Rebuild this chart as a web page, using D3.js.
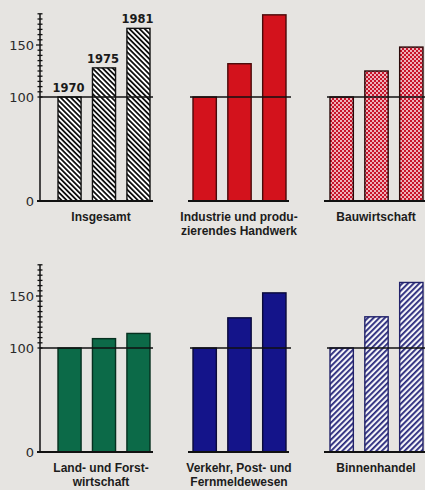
<!DOCTYPE html>
<html><head><meta charset="utf-8">
<script src="https://cdn.jsdelivr.net/npm/d3@7"></script>
<style>html,body{margin:0;padding:0;background:#e6e4e1;}svg{display:block;}</style>
</head><body>
<svg id="c" width="425" height="490"></svg>
<script>
const years = ["1970", "1975", "1981"];
const sectors = ["Insgesamt", "Industrie und produzierendes Handwerk", "Bauwirtschaft",
                 "Land- und Forstwirtschaft", "Verkehr, Post- und Fernmeldewesen", "Binnenhandel"];
const sectorLabels = [["Insgesamt"], ["Industrie und produ-", "zierendes Handwerk"], ["Bauwirtschaft"],
                      ["Land- und Forst-", "wirtschaft"], ["Verkehr, Post- und", "Fernmeldewesen"], ["Binnenhandel"]];
const insgesamt = [100, 128, 166];
const industrie = [100, 132, 179];
const bauwirtschaft = [100, 125, 148];
const landForst = [100, 109, 114];
const verkehr = [100, 129, 153];
const binnenhandel = [100, 130, 163];
const seriesValues = [insgesamt, industrie, bauwirtschaft, landForst, verkehr, binnenhandel];
const yTickLabels = [0, 100, 150];
const yMinorTicks = d3.range(100, 181, 5);

const svg = d3.select("#c");
const defs = svg.append("defs");

// patterns
const p1 = defs.append("pattern").attr("id","hatchBlack").attr("patternUnits","userSpaceOnUse")
  .attr("width",3.6).attr("height",3.6).attr("patternTransform","rotate(45)");
p1.append("rect").attr("width",3.6).attr("height",3.6).attr("fill","#fff");
p1.append("rect").attr("width",3.6).attr("height",1.8).attr("fill","#111");

const p6 = defs.append("pattern").attr("id","hatchBlue").attr("patternUnits","userSpaceOnUse")
  .attr("width",4).attr("height",4).attr("patternTransform","rotate(-45)");
p6.append("rect").attr("width",4).attr("height",4).attr("fill","#f4f4f8");
p6.append("rect").attr("width",4).attr("height",1.8).attr("fill","#26267a");

const p3 = defs.append("pattern").attr("id","dotsRed").attr("patternUnits","userSpaceOnUse")
  .attr("width",4).attr("height",4);
p3.append("rect").attr("width",4).attr("height",4).attr("fill","#c8142a");
p3.append("circle").attr("cx",1).attr("cy",1).attr("r",1).attr("fill","#fbe6ea");
p3.append("circle").attr("cx",3).attr("cy",3).attr("r",1).attr("fill","#fbe6ea");

const styles = [
  {fill:"url(#hatchBlack)", stroke:"#111"},
  {fill:"#d3121c", stroke:"#4a0a0a"},
  {fill:"url(#dotsRed)", stroke:"#2a0808"},
  {fill:"#0c6a48", stroke:"#06301f"},
  {fill:"#14148a", stroke:"#0a0a3a"},
  {fill:"url(#hatchBlue)", stroke:"#22226a"}
];

const rowBase = [201, 452];
const colRange = [[58, 150], [193, 286], [330, 423]];
const baseExt = [[37, 153], [188, 289], [324, 425]];
const refExt = [[40, 153], [190, 291], [327, 425]];
const labelCx = [101, 239, 376];

sectors.forEach((s, i) => {
  const row = Math.floor(i / 3), col = i % 3;
  const y = d3.scaleLinear().domain([0, 100]).range([rowBase[row], rowBase[row] - 104]);
  const x = d3.scaleBand().domain(years).range(colRange[col]).paddingInner(0.33).paddingOuter(0);
  const g = svg.append("g");
  const vals = seriesValues[i];

  g.selectAll("rect.bar").data(years).join("rect").attr("class","bar")
    .attr("x", d => x(d)).attr("width", x.bandwidth())
    .attr("y", (d, k) => y(vals[k])).attr("height", (d, k) => y(0) - y(vals[k]))
    .attr("fill", styles[i].fill).attr("stroke", styles[i].stroke).attr("stroke-width", 1.4);

  // reference line at 100
  g.append("line").attr("x1", refExt[col][0]).attr("x2", refExt[col][1])
    .attr("y1", y(100)).attr("y2", y(100)).attr("stroke", "#111").attr("stroke-width", 1.5);
  // baseline
  g.append("line").attr("x1", baseExt[col][0]).attr("x2", baseExt[col][1])
    .attr("y1", y(0)).attr("y2", y(0)).attr("stroke", "#111").attr("stroke-width", 2);

  if (col === 0) {
    g.append("line").attr("x1", 40).attr("x2", 40).attr("y1", y(0)).attr("y2", y(180))
      .attr("stroke", "#111").attr("stroke-width", 1.5);
    g.selectAll("line.mt").data(yMinorTicks).join("line").attr("class","mt")
      .attr("x1", d => d === 150 ? 36 : 37.5).attr("x2", 42.5)
      .attr("y1", d => y(d)).attr("y2", d => y(d))
      .attr("stroke", "#111").attr("stroke-width", 1.3);
    const ax = g.append("g").attr("transform", "translate(38,0)")
      .call(d3.axisLeft(y).tickValues(yTickLabels).tickSize(0).tickPadding(4).tickFormat(d3.format("d")));
    ax.select(".domain").remove();
    ax.selectAll("text").attr("font-family", "DejaVu Sans").attr("font-size", 13).attr("fill", "#2a2a2a")
      .attr("dy", "0.36em");
  }

  if (i === 0) {
    g.selectAll("text.yr").data(years).join("text").attr("class","yr")
      .attr("x", d => x(d) + x.bandwidth() / 2 - 1)
      .attr("y", (d, k) => y(vals[k]) - 5)
      .attr("text-anchor", "middle").attr("font-family", "DejaVu Sans").attr("font-weight", "bold")
      .attr("font-size", 11.5).attr("fill", "#1a1a1a").text(d => d);
  }

  const t = g.append("text").attr("text-anchor", "middle")
    .attr("font-family", "Liberation Sans, Arial").attr("font-weight", "bold").attr("font-size", 12)
    .attr("fill", "#1c1c1c");
  sectorLabels[i].forEach((line, k) => {
    t.append("tspan").attr("x", labelCx[col]).attr("y", rowBase[row] + 20 + k * 14).text(line);
  });
});
</script>
</body></html>
